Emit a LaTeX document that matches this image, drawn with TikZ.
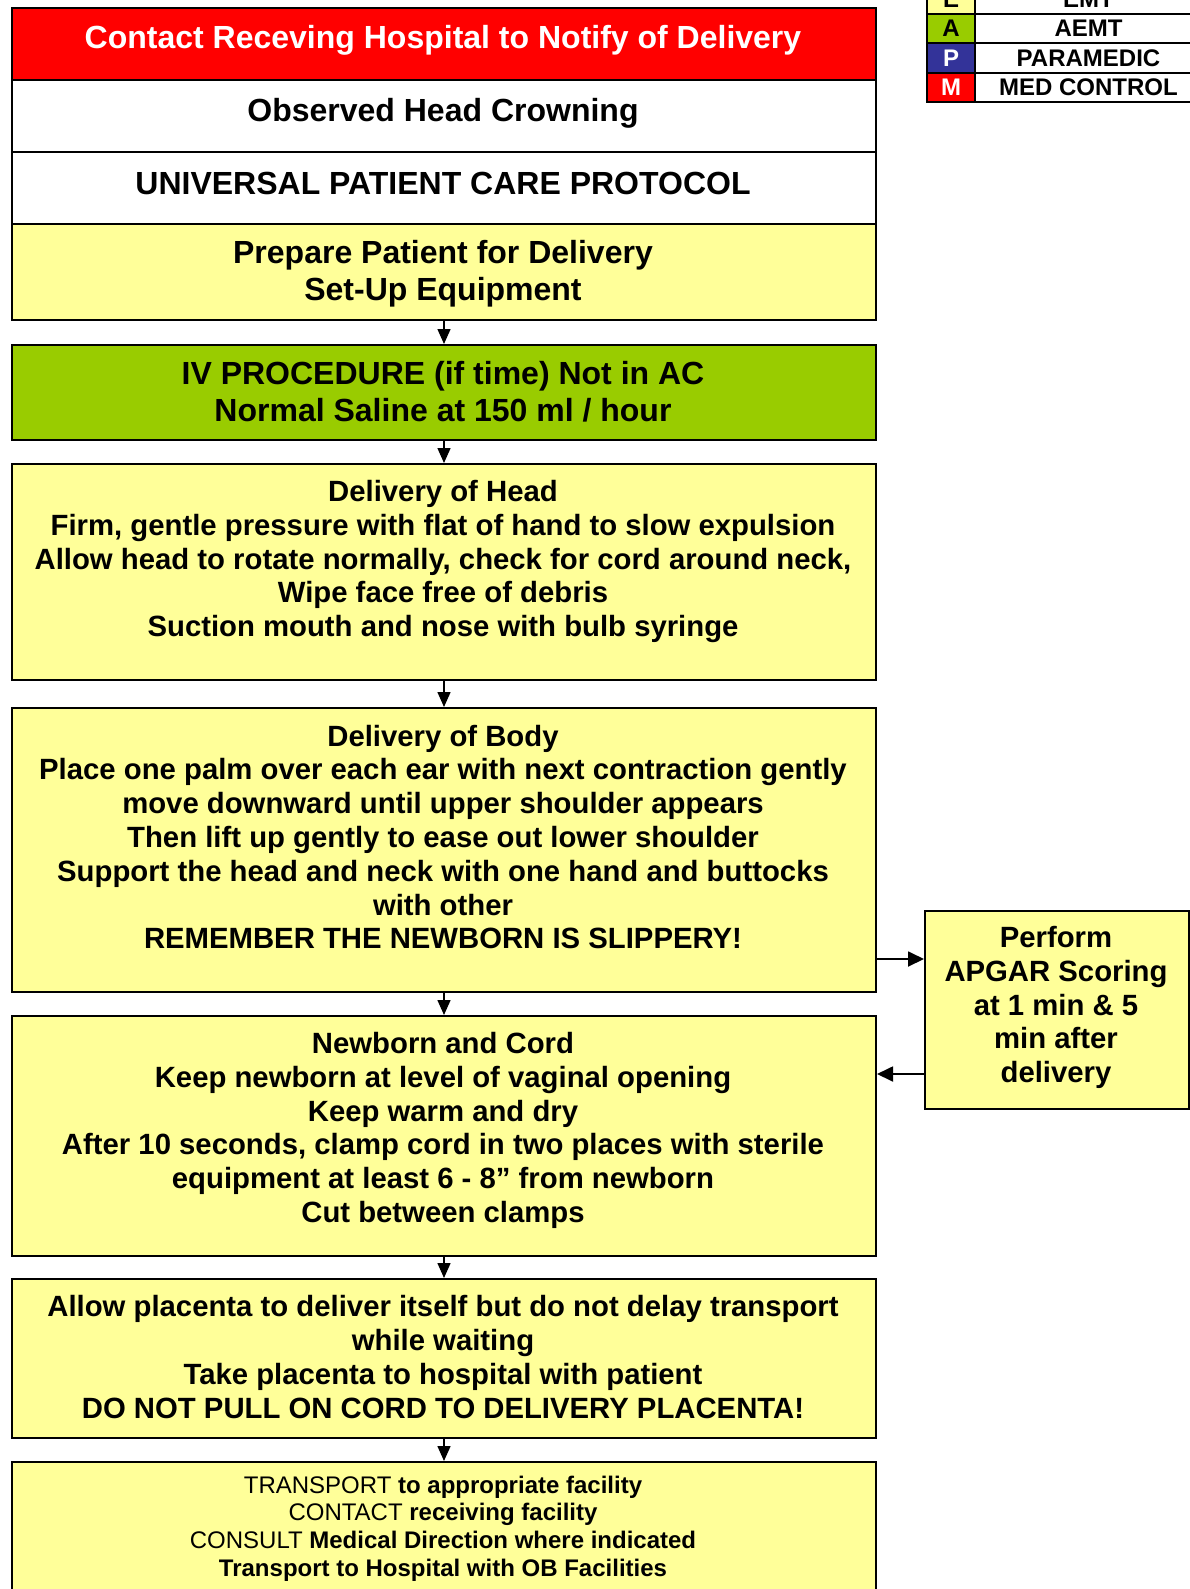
\documentclass[tikz,border=0pt]{standalone}
\usepackage{fontspec}
\setmainfont{Liberation Sans}
\usetikzlibrary{arrows.meta}
\definecolor{ylw}{HTML}{FFFF99}
\definecolor{grn}{HTML}{99CC00}
\definecolor{blu}{HTML}{333399}
\definecolor{rd}{HTML}{FF0000}
\begin{document}
\begin{tikzpicture}[x=1pt,y=-1pt,
  box/.style={draw=black, line width=2pt, rectangle, anchor=north west, inner sep=0pt, minimum width=864pt},
  lgd/.style={draw=black, line width=2.5pt, rectangle, inner sep=0pt, font=\bfseries\fontsize{24}{27}\selectfont},
  txt/.style={align=center, font=\bfseries\fontsize{29.3}{33.8}\selectfont, inner sep=0pt},
  big/.style={align=center, font=\bfseries\fontsize{32}{37}\selectfont, inner sep=0pt},
  small/.style={align=center, font=\bfseries\fontsize{24}{27.6}\selectfont, inner sep=0pt},
  arr/.style={line width=1.5pt, -{Triangle[length=15pt,width=13pt]}},
  sarr/.style={line width=1.8pt, -{Triangle[length=16pt,width=15pt]}},
]
\useasboundingbox (0,0) rectangle (1190,1589);
\fill[white] (0,0) rectangle (1190,1589);

% main column boxes
\node[box, fill=rd, minimum height=72pt] (contact) at (11,7) {};
\node[box, fill=white, minimum height=72pt] (observed) at (11,79) {};
\node[box, fill=white, minimum height=72pt] (universal) at (11,151) {};
\node[box, fill=ylw, minimum height=96pt] (prep) at (11,223) {};
\node[box, fill=grn, minimum height=95pt] (iv) at (11,344) {};
\node[box, fill=ylw, minimum height=216pt] (head) at (11,463) {};
\node[box, fill=ylw, minimum height=284pt] (body) at (11,707) {};
\node[box, fill=ylw, minimum height=240pt] (newborn) at (11,1015) {};
\node[box, fill=ylw, minimum height=159pt] (placenta) at (11,1278) {};
\node[box, fill=ylw, minimum height=160pt] (transport) at (11,1461) {};
\node[box, fill=ylw, minimum width=264pt, minimum height=198pt] (apgar) at (924,910) {};

% texts
\node[big, text=white] (contacttxt) at (443,40.5) {Contact Receving Hospital to Notify of Delivery};
\node[big] (observedtxt) at (443,113.5) {Observed Head Crowning};
\node[big] (universaltxt) at (443,183) {UNIVERSAL PATIENT CARE PROTOCOL};
\node[big] (preptxt) at (443,274) {Prepare Patient for Delivery\\Set-Up Equipment};
\node[big] (ivtxt) at (443,391.5) {IV PROCEDURE (if time) Not in AC\\Normal Saline at 150 ml / hour};
\node[txt] (headtxt) at (443,561.5) {Delivery of Head\\Firm, gentle pressure with flat of hand to slow expulsion\\Allow head to rotate normally, check for cord around neck,\\Wipe face free of debris\\Suction mouth and nose with bulb syringe};
\node[txt] (bodytxt) at (443,837) {Delivery of Body\\Place one palm over each ear with next contraction gently\\move downward until upper shoulder appears\\Then lift up gently to ease out lower shoulder\\Support the head and neck with one hand and buttocks\\with other\\REMEMBER THE NEWBORN IS SLIPPERY!};
\node[txt] (newborntxt) at (443,1130.5) {Newborn and Cord\\Keep newborn at level of vaginal opening\\Keep warm and dry\\After 10 seconds, clamp cord in two places with sterile\\equipment at least 6 - 8” from newborn\\Cut between clamps};
\node[txt] (placentatxt) at (443,1357) {Allow placenta to deliver itself but do not delay transport\\while waiting\\Take placenta to hospital with patient\\DO NOT PULL ON CORD TO DELIVERY PLACENTA!};
\node[small] (transporttxt) at (443,1528.5) {{\mdseries TRANSPORT} to appropriate facility\\{\mdseries CONTACT} receiving facility\\{\mdseries CONSULT} Medical Direction where indicated\\Transport to Hospital with OB Facilities};
\node[txt] (apgartxt) at (1056,1007.5) {Perform\\APGAR Scoring\\at 1 min \& 5\\min after\\delivery};

% connectors
\draw[arr] (prep.south) -- (iv.north);
\draw[arr] (iv.south) -- (head.north);
\draw[arr] (head.south) -- (body.north);
\draw[arr] (body.south) -- (newborn.north);
\draw[arr] (newborn.south) -- (placenta.north);
\draw[arr] (placenta.south) -- (transport.north);
\coordinate (r1) at (900,959);
\coordinate (r2) at (900,1074);
\draw[sarr] (body.east |- r1) -- (apgar.west |- r1);
\draw[sarr] (apgar.west |- r2) -- (newborn.east |- r2);

% legend
\node[lgd, fill=ylw, minimum width=48pt, minimum height=29pt] (le) at (951,-0.5) {E};
\node[lgd, fill=white, minimum width=227pt, minimum height=29pt] (lemt) at (1088.5,-0.5) {EMT};
\node[lgd, fill=grn, minimum width=48pt, minimum height=29pt] (la) at (951,28.5) {A};
\node[lgd, fill=white, minimum width=227pt, minimum height=29pt] (laemt) at (1088.5,28.5) {AEMT};
\node[lgd, fill=blu, text=white, minimum width=48pt, minimum height=30pt] (lp) at (951,58) {P};
\node[lgd, fill=white, minimum width=227pt, minimum height=30pt] (lpar) at (1088.5,58) {PARAMEDIC};
\node[lgd, fill=rd, text=white, minimum width=48pt, minimum height=29pt] (lm) at (951,87.5) {M};
\node[lgd, fill=white, minimum width=227pt, minimum height=29pt] (lmed) at (1088.5,87.5) {MED CONTROL};
\end{tikzpicture}
\end{document}
